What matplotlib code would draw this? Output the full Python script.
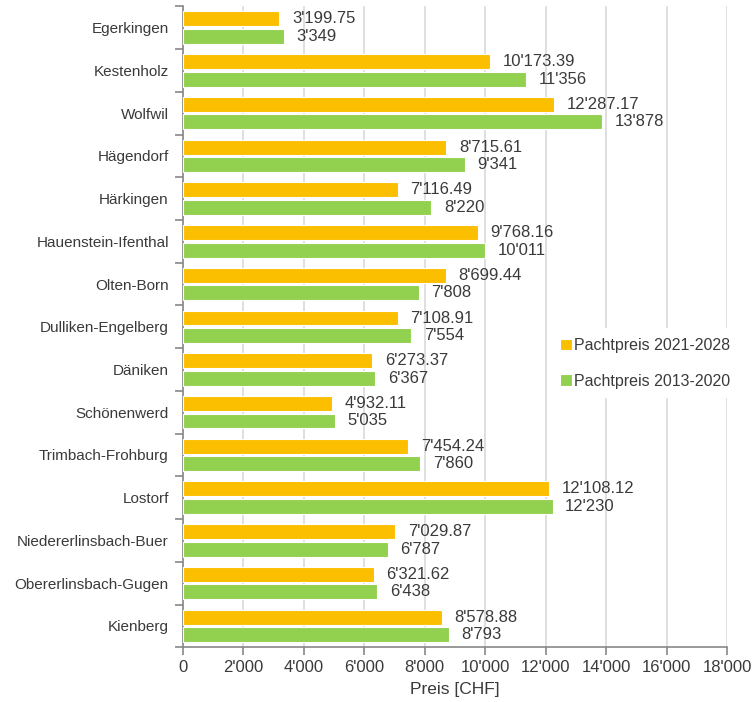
import matplotlib
matplotlib.use('Agg')
import matplotlib.pyplot as plt
import numpy as np

# data
orte = ['Egerkingen', 'Kestenholz', 'Wolfwil', 'Hägendorf', 'Härkingen',
        'Hauenstein-Ifenthal', 'Olten-Born', 'Dulliken-Engelberg', 'Däniken',
        'Schönenwerd', 'Trimbach-Frohburg', 'Lostorf', 'Niedererlinsbach-Buer',
        'Obererlinsbach-Gugen', 'Kienberg']
preis_neu = [3199.75, 10173.39, 12287.17, 8715.61, 7116.49, 9768.16, 8699.44,
             7108.91, 6273.37, 4932.11, 7454.24, 12108.12, 7029.87, 6321.62, 8578.88]
preis_alt = [3349, 11356, 13878, 9341, 8220, 10011, 7808, 7554, 6367, 5035,
             7860, 12230, 6787, 6438, 8793]
x_ticks = [0, 2000, 4000, 6000, 8000, 10000, 12000, 14000, 16000, 18000]


def fmt(v, dec):
    s = f"{v:,.{dec}f}"
    return s.replace(',', "'")


plt.rcParams['font.family'] = ['Liberation Sans', 'DejaVu Sans']
txt = '#3a3a3a'
orange = '#FBBF00'
green = '#92D050'

fig = plt.figure(figsize=(7.55, 7.02), dpi=100)
ax = fig.add_axes([0.242, 0.078, 0.721, 0.913])

y = np.arange(len(orte))
h = 0.35
off = 0.03
ax.barh(y - h / 2 - off, preis_neu, height=h, color=orange,
        edgecolor='white', linewidth=0.8, label='Pachtpreis 2021-2028', zorder=3)
ax.barh(y + h / 2 + off, preis_alt, height=h, color=green,
        edgecolor='white', linewidth=0.8, label='Pachtpreis 2013-2020', zorder=3)

# value labels right of bars
for i in range(len(orte)):
    ax.annotate(fmt(preis_neu[i], 2), (preis_neu[i], y[i] - h / 2 - off),
                xytext=(9, 0), textcoords='offset points', va='center',
                fontsize=12, color=txt)
    ax.annotate(fmt(preis_alt[i], 0), (preis_alt[i], y[i] + h / 2 + off),
                xytext=(9, 0), textcoords='offset points', va='center',
                fontsize=12, color=txt)

ax.set_ylim(len(orte) - 0.5, -0.5)
ax.set_xlim(0, 18000)
ax.set_xticks(x_ticks)
ax.set_xticklabels([fmt(v, 0) for v in x_ticks], fontsize=12, color=txt)
ax.set_yticks(y)
ax.set_yticklabels(orte, fontsize=11, color=txt)
ax.set_yticks(np.arange(len(orte) + 1) - 0.5, minor=True)
ax.tick_params(axis='y', which='major', length=0, pad=10)
ax.tick_params(axis='y', which='minor', length=6, color='#888888', width=1.2)
ax.tick_params(axis='x', length=6, color='#888888', width=1.2, pad=3)

ax.grid(axis='x', color='#d9d9d9', linewidth=1.2, zorder=0)
for s in ['top', 'right']:
    ax.spines[s].set_visible(False)
for s in ['left', 'bottom']:
    ax.spines[s].set_color('#888888')
    ax.spines[s].set_linewidth(1.2)

ax.set_xlabel('Preis [CHF]', fontsize=12.5, color=txt, labelpad=5)

leg = ax.legend(loc='center left', bbox_to_anchor=(0.66, 0.443), frameon=True,
                fontsize=11.5, handlelength=0.75, handleheight=0.75,
                handletextpad=0.15, labelspacing=1.3, borderpad=0.6)
leg.get_frame().set_edgecolor('none')
leg.get_frame().set_facecolor('white')
leg.get_frame().set_alpha(1)
for t in leg.get_texts():
    t.set_color(txt)

plt.savefig('out.png', dpi=100)
